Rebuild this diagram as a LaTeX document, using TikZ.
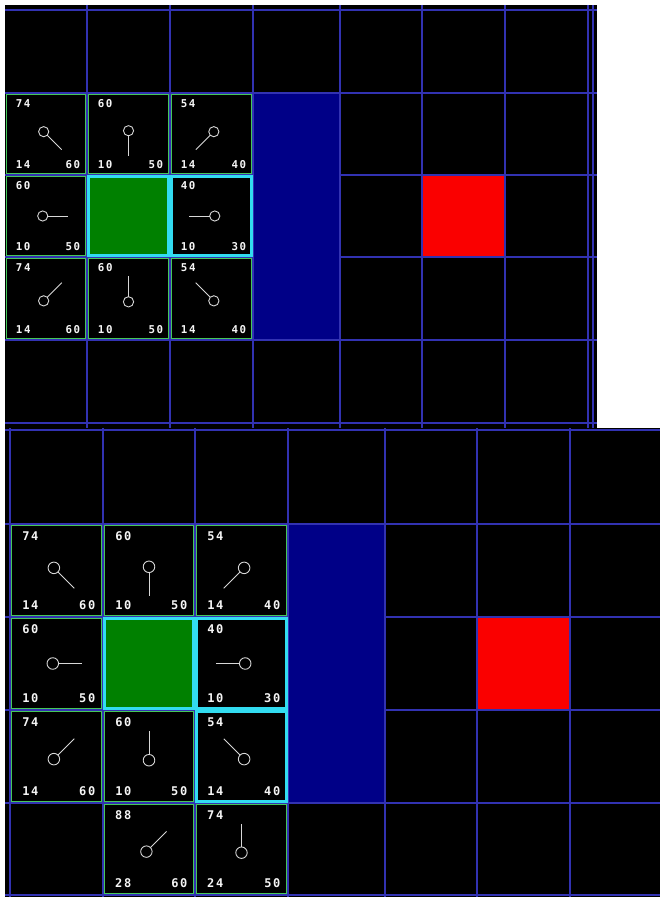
\documentclass[tikz,border=0pt]{standalone}
\usepackage{fontspec}
\newfontfamily\pixfont{DejaVu Sans Mono}[LetterSpace=14]
\usetikzlibrary{calc}
\definecolor{gridc}{RGB}{50,50,178}
\definecolor{navyc}{RGB}{0,0,135}
\definecolor{redc}{RGB}{250,0,0}
\definecolor{startc}{RGB}{0,128,0}
\definecolor{gbord}{RGB}{70,200,90}
\definecolor{cbord}{RGB}{50,220,240}
\definecolor{labc}{RGB}{245,245,245}
\definecolor{lolc}{RGB}{215,215,215}
\newcount\cellid
\def\labfont{\pixfont\bfseries\fontsize{10.8}{11}\selectfont}
\tikzset{
  gline/.style={draw=gridc, line width=1.1pt},
  gbox/.style={draw=gbord, line width=1.8pt},
  cbox/.style={draw=cbord, line width=2.2pt},
  lab/.style={inner sep=0pt, text=labc, font=\labfont},
  lolly/.style={draw=lolc, line width=0.9pt},
}
% #1 x0, #2 y0, #3 x1, #4 y1, #5 box style, #6 f, #7 g, #8 h, #9 direction angle
\newcommand\pcell[9]{%
  \global\advance\cellid by 1
  \pgfmathsetmacro\pcx{(#1+#3)/2}%
  \pgfmathsetmacro\pcy{(#2+#4)/2}%
  \pgfmathsetmacro\pcs{#4-#2}%
  \draw[#5] (#1+1.5,#2+1.5) rectangle (#3-1.5,#4-1.5);
  \node[lab,anchor=north west] (f\the\cellid) at (#1+0.13*\pcs,#2+0.08*\pcs) {#6};
  \node[lab,anchor=south west] (g\the\cellid) at (#1+0.13*\pcs,#4-0.08*\pcs) {#7};
  \node[lab,anchor=south east] (h\the\cellid) at (#3-0.08*\pcs,#4-0.08*\pcs) {#8};
  \coordinate (cc\the\cellid) at (\pcx,\pcy);
  \draw[lolly] ($(cc\the\cellid)+(#9+180:0.04*\pcs)$) circle[radius=0.062*\pcs];
  \draw[lolly] ($(cc\the\cellid)+(#9+180:0.04*\pcs)+(#9:0.062*\pcs)$) -- ($(cc\the\cellid)+(#9:0.27*\pcs)$);
}
\begin{document}
\begin{tikzpicture}[x=1pt,y=-1pt]
\useasboundingbox (0,0) rectangle (660,897);
\fill[white] (0,0) rectangle (660,897);
\fill[black] (5,5) rectangle (597,428);
\fill[black] (5,428) rectangle (660,897);
% grids
\foreach \x in {87,170,253,340,422,505,588,593} \draw[gline] (\x,5) -- (\x,428);
\foreach \y in {10,93,175,257,340,423} \draw[gline] (5,\y) -- (597,\y);
\foreach \x in {10,103,195,288,385,477,570} \draw[gline] (\x,428) -- (\x,897);
\foreach \y in {430,524,617,710,803,895} \draw[gline] (5,\y) -- (660,\y);
% walls and goal
\fill[navyc] (253.6,93.6) rectangle (339.4,339.4);
\fill[redc] (422.6,175.6) rectangle (504.4,256.4);
\fill[navyc] (288.6,524.6) rectangle (384.4,802.4);
\fill[redc] (477.6,617.6) rectangle (569.4,709.4);
% top panel
\begin{scope}
\pcell{5}{93}{87}{175}{gbox}{74}{14}{60}{45}
\pcell{87}{93}{170}{175}{gbox}{60}{10}{50}{90}
\pcell{170}{93}{253}{175}{gbox}{54}{14}{40}{135}
\pcell{5}{175}{87}{257}{gbox}{60}{10}{50}{0}
\draw[cbox,fill=startc] (88.5,176.5) rectangle (168.5,255.5);
\pcell{170}{175}{253}{257}{cbox}{40}{10}{30}{180}
\pcell{5}{257}{87}{340}{gbox}{74}{14}{60}{-45}
\pcell{87}{257}{170}{340}{gbox}{60}{10}{50}{-90}
\pcell{170}{257}{253}{340}{gbox}{54}{14}{40}{-135}
\end{scope}
% bottom panel
\begin{scope}
\def\labfont{\pixfont\bfseries\fontsize{12}{12}\selectfont}
\pcell{10}{524}{103}{617}{gbox}{74}{14}{60}{45}
\pcell{103}{524}{195}{617}{gbox}{60}{10}{50}{90}
\pcell{195}{524}{288}{617}{gbox}{54}{14}{40}{135}
\pcell{10}{617}{103}{710}{gbox}{60}{10}{50}{0}
\draw[cbox,fill=startc] (104.5,618.5) rectangle (193.5,708.5);
\pcell{195}{617}{288}{710}{cbox}{40}{10}{30}{180}
\pcell{10}{710}{103}{803}{gbox}{74}{14}{60}{-45}
\pcell{103}{710}{195}{803}{gbox}{60}{10}{50}{-90}
\pcell{195}{710}{288}{803}{cbox}{54}{14}{40}{-135}
\pcell{103}{803}{195}{895}{gbox}{88}{28}{60}{-45}
\pcell{195}{803}{288}{895}{gbox}{74}{24}{50}{-90}
\end{scope}
\end{tikzpicture}
\end{document}
